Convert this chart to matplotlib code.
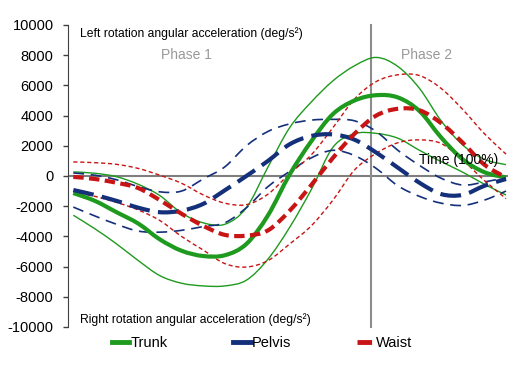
import numpy as np
import matplotlib
matplotlib.use("Agg")
from matplotlib import pyplot as plt
from matplotlib.path import Path
from matplotlib.patches import PathPatch
from matplotlib.lines import Line2D

plt.rcParams['font.family'] = ['Liberation Sans', 'DejaVu Sans']
plt.rcParams['axes.unicode_minus'] = False

# time normalised to 100 %, phase 1 / phase 2 boundary
time_pct = [0, 5, 10, 15, 20, 25, 30, 35, 40, 45, 50,
            55, 60, 65, 70, 75, 80, 85, 90, 95, 100]
phase_split = 68.8

# angular acceleration (deg/s^2): mean and mean +/- SD
trunk_mean = [-1130, -1650, -2400, -3150, -4200, -4950, -5300, -5250, -4500, -2600, 100,
              2300, 4100, 5000, 5350, 5200, 4300, 2550, 1100, 250, -100]
trunk_upper = [270, 180, -50, -550, -1300, -2450, -3100, -3200, -2100, 600, 3200,
               4900, 6300, 7300, 7850, 7250, 5800, 3650, 2050, 1100, 750]
trunk_lower = [-2600, -3500, -4500, -5600, -6600, -7100, -7280, -7280, -6900, -5500, -3400,
               -900, 1900, 2800, 2820, 2500, 1700, 950, 250, -550, -1260]

pelvis_mean = [-930, -1260, -1650, -2100, -2400, -2300, -1850, -950, 0, 1000, 2100,
               2650, 2750, 2400, 1550, 550, -450, -1200, -1250, -650, -200]
pelvis_upper = [200, 50, -250, -700, -1050, -1000, -200, 600, 2000, 2950, 3450,
                3700, 3750, 3650, 2950, 1700, 700, -150, -600, -400, -100]
pelvis_lower = [-2060, -2650, -3200, -3650, -3720, -3600, -3350, -3100, -2100, -700, 300,
                1200, 1700, 1350, 500, -650, -1350, -1800, -1950, -1600, -1000]

waist_mean = [-60, -200, -450, -800, -1600, -2500, -3300, -3900, -3950, -3600, -2300,
              -600, 1200, 2800, 4000, 4450, 4350, 3500, 2200, 750, -100]
waist_upper = [930, 880, 770, 500, 50, -480, -1250, -1800, -1900, -1200, 150,
               1400, 3200, 5100, 6250, 6700, 6650, 5800, 4400, 2800, 1450]
waist_lower = [-1060, -1350, -1750, -2250, -2950, -4000, -4900, -5800, -6030, -5600, -4500,
               -3300, -1600, 400, 1500, 2200, 2390, 2150, 1050, -300, -1500]

green = '#1e9a1e'
navy = '#15307a'
red = '#c81414'


def smooth_path(xs, ys):
    # Excel-like smoothed line: Catmull-Rom through the points as cubic Bezier
    x = np.asarray(xs, float)
    y = np.asarray(ys, float)
    verts = [(x[0], y[0])]
    codes = [Path.MOVETO]
    n = len(x)
    for i in range(n - 1):
        i0 = max(i - 1, 0)
        i3 = min(i + 2, n - 1)
        c1 = (x[i] + (x[i + 1] - x[i0]) / 6, y[i] + (y[i + 1] - y[i0]) / 6)
        c2 = (x[i + 1] - (x[i3] - x[i]) / 6, y[i + 1] - (y[i3] - y[i]) / 6)
        verts += [c1, c2, (x[i + 1], y[i + 1])]
        codes += [Path.CURVE4] * 3
    return Path(verts, codes)


def draw(ax, ys, color, lw, ls, z):
    ax.add_patch(PathPatch(smooth_path(time_pct, ys), fill=False, edgecolor=color,
                           lw=lw, linestyle=ls, zorder=z, capstyle='butt'))


fig = plt.figure(figsize=(5.24, 3.67), dpi=100)
ax = fig.add_axes([0.130, 0.109, 0.839, 0.823])

ax.axhline(0, color='#7f7f7f', lw=1.5, zorder=1)
ax.axvline(phase_split, color='#8c8c8c', lw=1.5, zorder=1, clip_on=False)

thin_dash = (0, (6.5, 4))
thin_dot = (0, (3, 2))
draw(ax, trunk_upper, green, 1.0, '-', 2)
draw(ax, trunk_lower, green, 1.0, '-', 2)
draw(ax, pelvis_upper, navy, 1.2, thin_dash, 2)
draw(ax, pelvis_lower, navy, 1.2, thin_dash, 2)
draw(ax, waist_upper, red, 1.0, thin_dot, 2)
draw(ax, waist_lower, red, 1.0, thin_dot, 2)

draw(ax, trunk_mean, green, 3.0, '-', 3)
draw(ax, pelvis_mean, navy, 3.0, (0, (5, 2)), 3)
draw(ax, waist_mean, red, 3.0, (0, (2.5, 1.3)), 3)

ax.set_xlim(-1.2, 100.4)
ax.set_ylim(-10000, 10000)
ax.set_yticks(range(-10000, 10001, 2000))
ax.set_xticks([])
for side in ['top', 'right', 'bottom']:
    ax.spines[side].set_visible(False)
ax.spines['left'].set_color('#404040')
ax.tick_params(axis='y', length=3.5, width=1, color='#404040', pad=7, labelsize=10.5)

ax.text(0.027, 0.973, 'Left rotation angular acceleration (deg/s²)', transform=ax.transAxes,
        fontsize=8.7, va='center', ha='left')
ax.text(0.027, 0.023, 'Right rotation angular acceleration (deg/s²)', transform=ax.transAxes,
        fontsize=8.7, va='center', ha='left')
ax.text(0.268, 0.90, 'Phase 1', transform=ax.transAxes, fontsize=10, color='#999999',
        ha='center', va='center')
ax.text(0.816, 0.90, 'Phase 2', transform=ax.transAxes, fontsize=10, color='#999999',
        ha='center', va='center')
ax.text(0.889, 0.553, 'Time (100%)', transform=ax.transAxes, fontsize=10,
        ha='center', va='center', zorder=5)

handles = [Line2D([], [], color=green, lw=3.5),
           Line2D([], [], color=navy, lw=3.5),
           Line2D([], [], color=red, lw=3.5, dashes=(3.0, 1.5))]
fig.legend(handles, ['Trunk', 'Pelvis', 'Waist'], loc='center', ncol=3,
           bbox_to_anchor=(0.50, 0.065), frameon=False, fontsize=10.5,
           handlelength=1.2, handletextpad=0.1, columnspacing=4.5)

fig.savefig('out.png', dpi=100)
